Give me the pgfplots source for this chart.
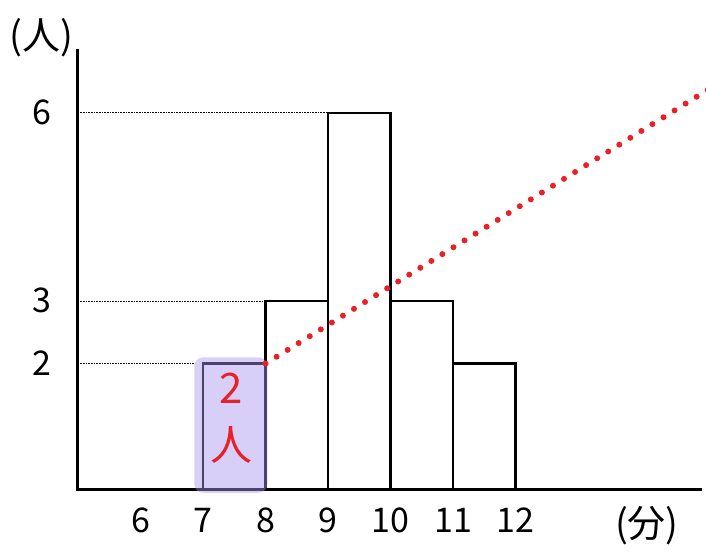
\documentclass[border=0pt]{standalone}
\usepackage{fontspec}
\setmainfont{Noto Sans CJK JP}
\usepackage{pgfplots}
\pgfplotsset{compat=1.18}
\definecolor{hlred}{RGB}{232,32,40}
\definecolor{hlpurple}{RGB}{170,150,240}
\begin{document}
\begin{tikzpicture}
\useasboundingbox (-78pt,-66pt) rectangle (628pt,489pt);
\begin{axis}[
 at={(0pt,0pt)}, anchor=south west,
 scale only axis, width=622pt, height=439pt,
 xmin=5, xmax=14.95, ymin=0, ymax=7,
 axis x line=bottom, axis y line=left,
 axis line style={-, line width=3pt, black, line cap=rect},
 xtick={6,...,12}, ytick={2,3,6},
 major tick length=0pt,
 /pgf/number format/assume math mode=true,
 tick label style={font=\fontsize{34}{34}\selectfont, anchor=center},
 xticklabel style={yshift=-31pt},
 yticklabel style={xshift=-36pt},
 clip=false,
]
\addplot[ybar interval, fill=white, draw=black, line width=2.2pt] coordinates {(7,2)(8,3)(9,6)(10,3)(11,2)(12,0)};
\addplot[black, densely dotted, line width=0.6pt] coordinates {(5,6)(9,6)};
\addplot[black, densely dotted, line width=0.6pt] coordinates {(5,3)(8,3)};
\addplot[black, densely dotted, line width=0.6pt] coordinates {(5,2)(6.86,2)};
\fill[hlpurple, opacity=0.45, rounded corners=9pt] (axis cs:6.86,-0.06) rectangle (axis cs:8.03,2.1);
\addplot[hlred, line width=6pt, line cap=round, dash pattern=on 0pt off 13pt] coordinates {(8,2)(15.1,6.38)};
\node[hlred, font=\fontsize{42}{42}\selectfont] at (axis cs:7.45,1.6) {2};
\node[hlred, font=\fontsize{42}{42}\selectfont] at (axis cs:7.45,0.7) {人};
\node[font=\fontsize{38}{38}\selectfont] at (axis cs:4.42,7.19) {(人)};
\node[font=\fontsize{38}{38}\selectfont] at (axis cs:14.1,-0.58) {(分)};
\end{axis}
\end{tikzpicture}
\end{document}
